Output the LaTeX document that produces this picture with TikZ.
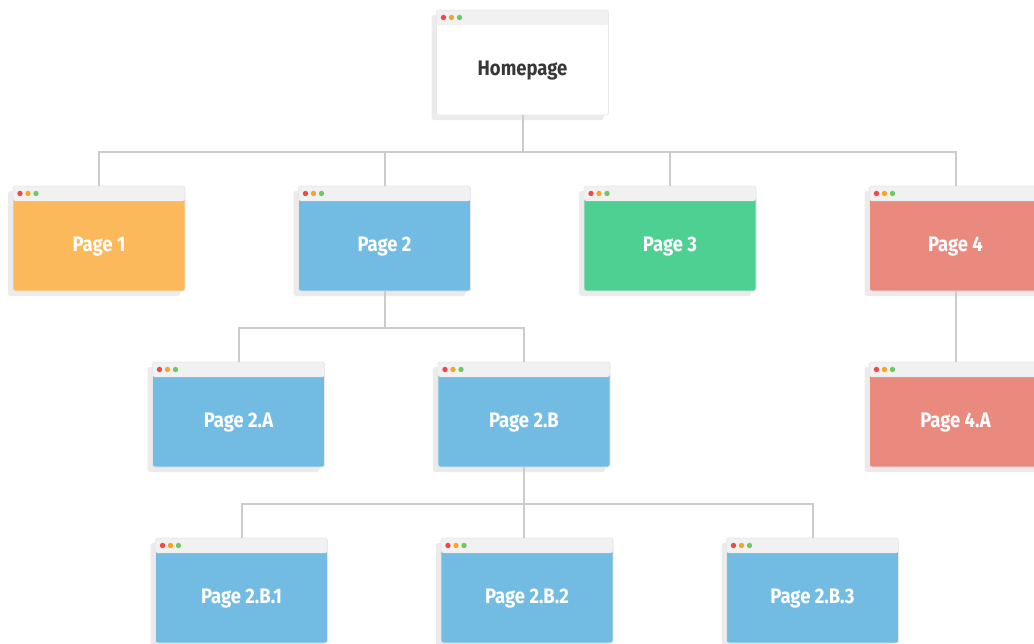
\documentclass[tikz,border=0pt]{standalone}
\usepackage{fontspec}
\newfontfamily\pagefont[FakeStretch=0.88]{Fira Sans}
\usepackage{tikz}
\usetikzlibrary{positioning,shadows,calc}

\definecolor{barcol}{HTML}{F1F1F1}
\definecolor{linecol}{HTML}{CCCCCC}
\definecolor{shadecol}{HTML}{EBEBEB}
\definecolor{orangepg}{HTML}{FBB95B}
\definecolor{bluepg}{HTML}{72BBE3}
\definecolor{greenpg}{HTML}{4DD091}
\definecolor{redpg}{HTML}{EA897E}
\definecolor{dotred}{HTML}{F04848}
\definecolor{dotyellow}{HTML}{F5A623}
\definecolor{dotgreen}{HTML}{6CCB5F}

\begin{document}
\begin{tikzpicture}[x=1pt, y=-1pt, node distance=285.5pt]
\tikzstyle{window}=[rectangle, rounded corners=2.5pt, draw=black!9, line width=0.6pt,
  minimum width=172pt, minimum height=105pt, inner sep=0pt,
  font=\pagefont\bfseries\fontsize{21}{21}\selectfont, text=white,
  text height=28pt, text depth=2pt,
  general shadow={fill=shadecol, shadow xshift=-5pt, shadow yshift=-5pt},
  path picture={
    \fill[barcol] (path picture bounding box.north west) rectangle
      ($(path picture bounding box.north east)+(0,-15pt)$);
    \fill[dotred]    ($(path picture bounding box.north west)+(7pt,-7.5pt)$) circle (2.7pt);
    \fill[dotyellow] ($(path picture bounding box.north west)+(15pt,-7.5pt)$) circle (2.7pt);
    \fill[dotgreen]  ($(path picture bounding box.north west)+(23pt,-7.5pt)$) circle (2.7pt);
  }]
\tikzstyle{link}=[draw=linecol, line width=2pt]
\useasboundingbox (0,0) rectangle (1034,643);

% top level
\node[window, fill=white, text=black!78] (home) at (522.5,62.5) {Homepage};

% first row
\node[window, fill=orangepg] (p1) at (99,238.5) {Page 1};
\node[window, fill=bluepg]   (p2) [right of=p1] {Page 2};
\node[window, fill=greenpg]  (p3) [right of=p2] {Page 3};
\node[window, fill=redpg]    (p4) [right of=p3] {Page 4};

% second row
\node[window, fill=bluepg] (p2a) at (238.5,414.5) {Page 2.A};
\node[window, fill=bluepg] (p2b) [right of=p2a]   {Page 2.B};
\node[window, fill=redpg]  (p4a) [below of=p4, node distance=176pt] {Page 4.A};

% third row
\node[window, fill=bluepg] (p2b1) at (241.5,590.5) {Page 2.B.1};
\node[window, fill=bluepg] (p2b2) [right of=p2b1] {Page 2.B.2};
\node[window, fill=bluepg] (p2b3) [right of=p2b2] {Page 2.B.3};

% connectors
\coordinate (bus1) at (home.south |- 0,152);
\coordinate (bus2) at (p2.south |- 0,328);
\coordinate (bus3) at (p2b.south |- 0,504);
\foreach \n in {p1,p2,p3,p4}
  \draw[link] (home.south) -- (bus1) -| (\n.north);
\foreach \n in {p2a,p2b}
  \draw[link] (p2.south) -- (bus2) -| (\n.north);
\foreach \n in {p2b1,p2b3}
  \draw[link] (p2b.south) -- (bus3) -| (\n.north);
\draw[link] (p2b.south) -- (p2b.south |- p2b2.north);
\draw[link] (p4.south) -- (p4a.north);
\end{tikzpicture}
\end{document}
